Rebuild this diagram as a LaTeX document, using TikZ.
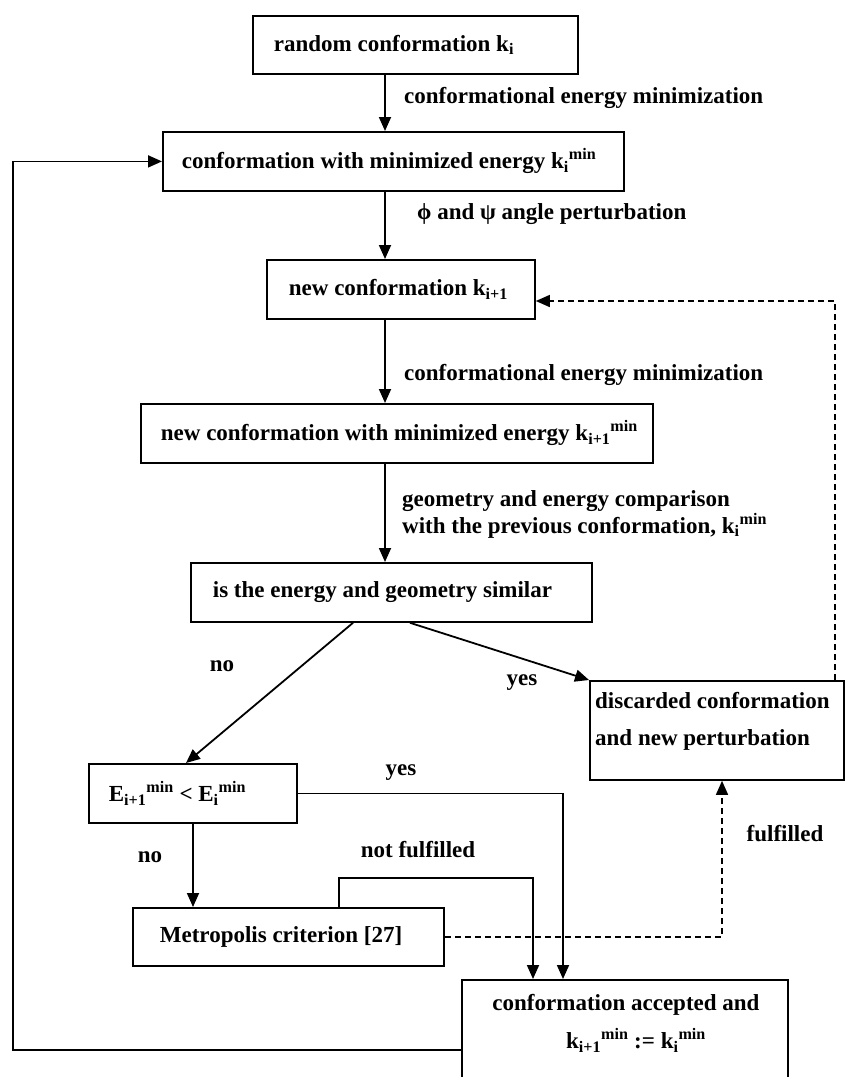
\documentclass[tikz,border=0pt]{standalone}
\usepackage{fontspec}
\setmainfont{Liberation Serif}
\usetikzlibrary{arrows.meta}
\newcommand{\lblfont}{\fontsize{23}{25}\selectfont\bfseries}
\newcommand{\lbox}[2]{\makebox[#1][l]{#2}}
\begin{document}
\begin{tikzpicture}[x=1pt,y=-1pt,
  box/.style={draw, line width=1.8pt, inner xsep=0pt, inner ysep=0pt, font=\lblfont, anchor=north west},
  txt/.style={font=\lblfont, inner sep=0pt, anchor=west, align=left},
  conn/.style={line width=1.8pt, -{Triangle[length=14pt,width=12pt]}},
  dconn/.style={line width=1.4pt, dash pattern=on 6pt off 4pt, -{Triangle[length=14pt,width=12pt]}}]
\useasboundingbox (0,0) rectangle (845,1077);
\fill[white] (0,0) rectangle (845,1077);

% boxes
\node[box, inner xsep=21pt, minimum height=58pt] (b1) at (252,15) {\lbox{283pt}{random conformation k\textsubscript{i}}};
\node[box, inner xsep=19pt, minimum height=59pt] (b2) at (162,131) {\lbox{423pt}{conformation with minimized energy k\textsubscript{i}\textsuperscript{min}}};
\node[box, inner xsep=22pt, minimum height=59pt] (b3) at (266,259) {\lbox{224pt}{new conformation k\textsubscript{i+1}}};
\node[box, inner xsep=20pt, minimum height=59pt] (b4) at (140,403) {\lbox{472pt}{new conformation with minimized energy k\textsubscript{i+1}\textsuperscript{min}}};
\node[box, inner xsep=22pt, minimum height=59pt] (b5) at (190,562) {\lbox{357pt}{is the energy and geometry similar}};
\node[box, minimum width=254pt, minimum height=99pt] (b6) at (589,680) {};
\node[txt] (t6) at (595,721.5) {discarded conformation\\[12pt]and new perturbation};
\node[box, inner xsep=20pt, minimum height=59pt] (b7) at (88,763) {\lbox{168pt}{E\textsubscript{i+1}\textsuperscript{min} < E\textsubscript{i}\textsuperscript{min}}};
\node[box, inner xsep=27pt, minimum height=58pt] (b8) at (132,907) {\lbox{257pt}{Metropolis criterion [27]}};
\node[box, minimum width=326pt, minimum height=120pt] (b9) at (461,979) {};
\node[txt, anchor=center, align=center] (t9) at (626,1023.5) {conformation accepted and\\[12pt]\hspace*{20pt}k\textsubscript{i+1}\textsuperscript{min} := k\textsubscript{i}\textsuperscript{min}};

% labels
\node[txt] (l1) at (404,98) {conformational energy minimization};
\node[txt] (l2) at (417,214) {ϕ and ψ angle perturbation};
\node[txt] (l3) at (404,375) {conformational energy minimization};
\node[txt] (l4) at (402,514.5) {geometry and energy comparison\\with the previous conformation, k\textsubscript{i}\textsuperscript{min}};
\node[txt, anchor=center] (lno1) at (222,666) {no};
\node[txt, anchor=center] (lyes1) at (522,683) {yes};
\node[txt, anchor=center] (lyes2) at (401,773) {yes};
\node[txt, anchor=center] (lno2) at (150,857) {no};
\node[txt, anchor=center] (lnf) at (418,850) {not fulfilled};
\node[txt, anchor=center] (lf) at (785,834) {fulfilled};

% helper coordinates
\coordinate (xA) at (385,0);
\coordinate (xL1) at (353,0);
\coordinate (xL2) at (186,0);
\coordinate (xY1) at (410,0);
\coordinate (xD) at (835,0);
\coordinate (dY) at (0,301);
\coordinate (xN) at (193,0);
\coordinate (xM) at (339,0);
\coordinate (yM) at (0,878);
\coordinate (xR1) at (533,0);
\coordinate (xR2) at (563,0);
\coordinate (xF) at (722,0);
\coordinate (loopB) at (13,1050);

% connectors
\draw[conn] (b1.south -| xA) -- (b2.north -| xA);
\draw[conn] (b2.south -| xA) -- (b3.north -| xA);
\draw[conn] (b3.south -| xA) -- (b4.north -| xA);
\draw[conn] (b4.south -| xA) -- (b5.north -| xA);
\draw[conn] (b5.south -| xL1) -- (b7.north -| xL2);
\draw[conn] (b5.south -| xY1) -- (b6.north west);
\draw[dconn] (b6.north -| xD) |- (b3.east |- dY);
\draw[conn] (b7.east) -| (b9.north -| xR2);
\draw[conn] (b7.south -| xN) -- (b8.north -| xN);
\draw[conn] (b8.north -| xM) -- (xM |- yM) -| (b9.north -| xR1);
\draw[dconn] (b8.east) -| (b6.south -| xF);
\draw[conn] (loopB -| b9.west) -- (loopB) |- (b2.west);
\end{tikzpicture}
\end{document}
